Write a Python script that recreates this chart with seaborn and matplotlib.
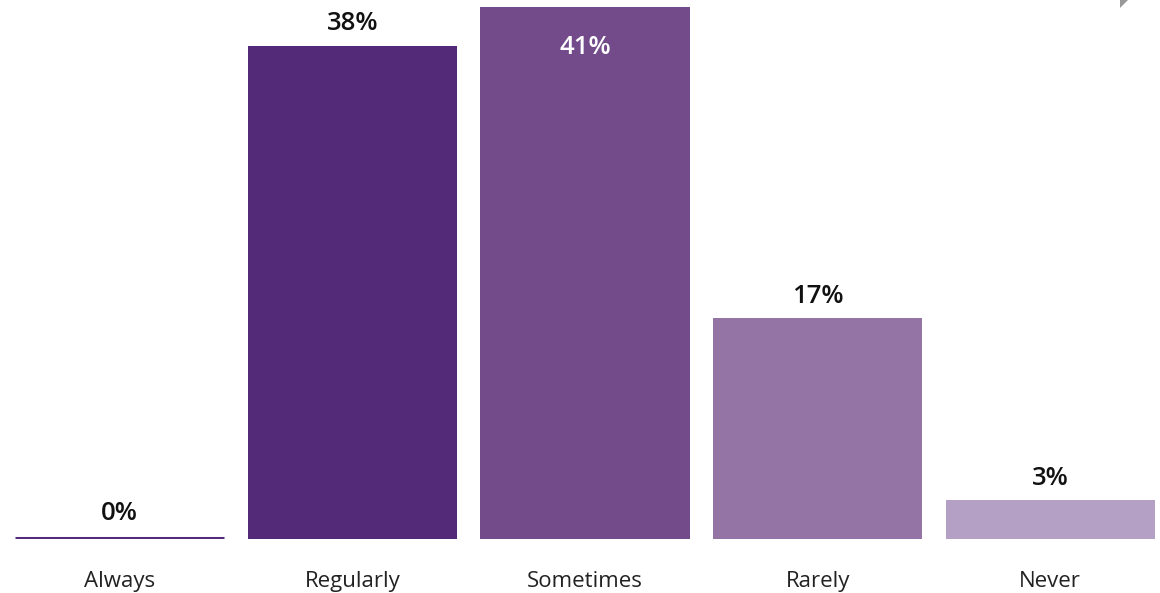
import matplotlib
matplotlib.use("Agg")
import matplotlib.pyplot as plt
import seaborn as sns
import pandas as pd
from matplotlib.patches import Polygon

categories = ["Always", "Regularly", "Sometimes", "Rarely", "Never"]
values = [0, 38, 41, 17, 3]
colors = ["#55297b", "#532a77", "#734b8a", "#9474a4", "#b5a0c5"]


def main():
    sns.set_style("white")
    plt.rcParams["font.family"] = ["Open Sans", "DejaVu Sans"]

    df = pd.DataFrame({"freq": categories, "pct": values})

    fig = plt.figure(figsize=(11.6, 5.93), dpi=100)
    ax = fig.add_axes([15 / 1160, 1 - 539 / 593, 1140 / 1160, 539 / 593])

    sns.barplot(data=df, x="freq", y="pct", hue="freq", palette=colors,
                legend=False, width=0.9, ax=ax, saturation=1, linewidth=0)

    # zero bar shows as a thin line
    for patch, v, c in zip(ax.patches, values, colors):
        if v == 0:
            patch.set_edgecolor(c)
            patch.set_linewidth(2.2)
            patch.set_y(0.1)

    ax.set_xlim(-0.45, len(categories) - 0.55)
    ax.set_ylim(0, 41.55)

    for i, v in enumerate(values):
        if v >= 40:
            ax.text(i, v - 3.1, f"{v}%", ha="center", va="center",
                    fontsize=18.5, fontweight="semibold", color="white")
        else:
            ax.text(i, v + 1.7 + (0.3 if v == 0 else 0), f"{v}%",
                    ha="center", va="center",
                    fontsize=18.5, fontweight="semibold", color="#111111")

    ax.set_xlabel("")
    ax.set_ylabel("")
    ax.set_yticks([])
    ax.tick_params(axis="x", length=0, pad=23, labelsize=16, labelcolor="#222222")
    sns.despine(ax=ax, left=True, bottom=True)

    # small grey corner mark top right
    tri = Polygon([[1120, 593], [1128, 593], [1120, 585]], closed=True,
                  transform=None, facecolor="#999999", edgecolor="none")
    fig.patches.append(tri)

    fig.savefig("out.png", dpi=100)
    plt.close(fig)


if __name__ == "__main__":
    main()
